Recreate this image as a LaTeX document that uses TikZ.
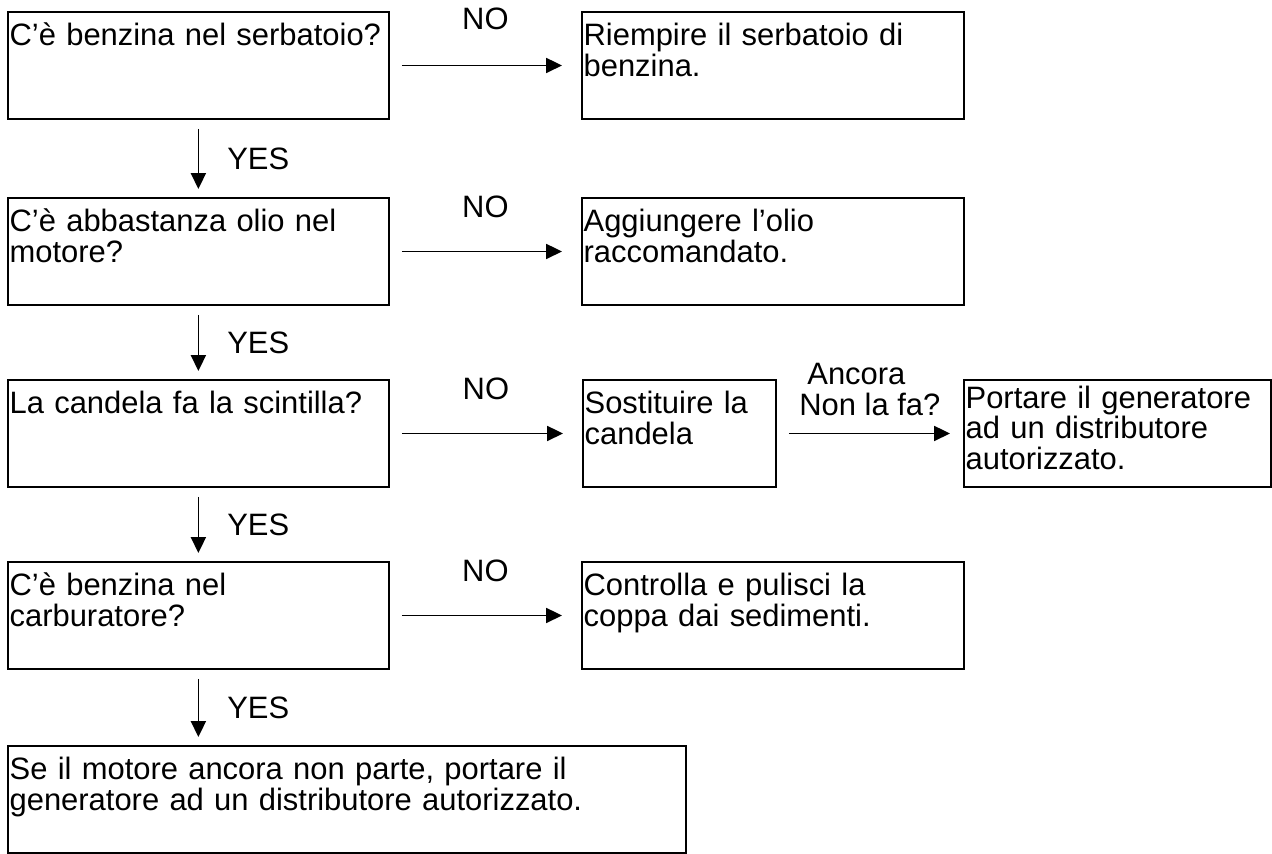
\documentclass[tikz,border=0pt]{standalone}
\usepackage{fontspec}
\setmainfont{Liberation Sans}
\usepackage{tikz}
\usetikzlibrary{arrows.meta,positioning}
\newcommand{\flowfont}{\fontsize{17.6}{17.6}\selectfont\hyphenpenalty=10000}
\tikzset{
  checkbox/.style={
    rectangle, draw=black, line width=1pt, anchor=north west,
    text width=#1, align=left, font=\flowfont,
    inner xsep=1pt, inner ysep=0pt,
    text height=19pt, text depth=42pt
  },
  checkbox/.default=7.55cm,
  flowarrow/.style={
    -{Triangle[length=9pt, width=8.5pt]}, line width=1pt, color=black
  },
  answer/.style={font=\flowfont, inner sep=0pt},
}

\begin{document}
\begin{tikzpicture}
  \useasboundingbox (0,0) rectangle (25.44,-17.06);
  \node[checkbox] at (0.14,-0.22) (q1) {C’è benzina nel serbatoio?};
  \node[checkbox=7.57cm] at (11.62,-0.22) (a1) {Riempire il serbatoio di\\benzina.};
  \node[checkbox] at (0.14,-3.94) (q2) {C’è abbastanza olio nel\\motore?};
  \node[checkbox=7.57cm] at (11.62,-3.94) (a2) {Aggiungere l’olio\\raccomandato.};
  \node[checkbox] at (0.14,-7.58) (q3) {La candela fa la scintilla?};
  \node[checkbox=3.79cm] at (11.64,-7.58) (a3) {Sostituire la\\candela};
  \node[checkbox=6.07cm, text height=16pt, text depth=45pt] at (19.26,-7.58) (a3b) {Portare il generatore\\ad un distributore\\autorizzato.};
  \node[checkbox] at (0.14,-11.22) (q4) {C’è benzina nel\\carburatore?};
  \node[checkbox=7.57cm] at (11.62,-11.22) (a4) {Controlla e pulisci la\\coppa dai sedimenti.};
  \node[checkbox=13.49cm] at (0.14,-14.9) (last) {Se il motore ancora non parte, portare il\\generatore ad un distributore autorizzato.};
  \draw[flowarrow, shorten <=0.24cm, shorten >=0.38cm] (q1.east) -- (a1.west) node[answer, midway, above=0.7cm] {NO};
  \draw[flowarrow, shorten <=0.24cm, shorten >=0.38cm] (q2.east) -- (a2.west) node[answer, midway, above=0.66cm] {NO};
  \draw[flowarrow, shorten <=0.24cm, shorten >=0.38cm] (q3.east) -- (a3.west) node[answer, midway, above=0.66cm] {NO};
  \draw[flowarrow, shorten <=0.24cm, shorten >=0.38cm] (q4.east) -- (a4.west) node[answer, midway, above=0.66cm] {NO};
  \draw[flowarrow, shorten <=0.24cm, shorten >=0.26cm] (a3.east) -- (a3b.west) node[answer, midway, above=0.34cm, align=left] {\hspace*{0.16cm}Ancora\\Non la fa?};
  \draw[flowarrow, shorten <=0.18cm, shorten >=0.16cm] (q1.south) -- (q2.north) node[answer, midway, right=0.56cm] {YES};
  \draw[flowarrow, shorten <=0.18cm, shorten >=0.16cm] (q2.south) -- (q3.north) node[answer, midway, right=0.56cm] {YES};
  \draw[flowarrow, shorten <=0.18cm, shorten >=0.16cm] (q3.south) -- (q4.north) node[answer, midway, right=0.56cm] {YES};
  \draw[flowarrow, shorten <=0.18cm, shorten >=0.16cm] (q4.south) -- (q4.south |- last.north) node[answer, midway, right=0.56cm] {YES};
\end{tikzpicture}
\end{document}
